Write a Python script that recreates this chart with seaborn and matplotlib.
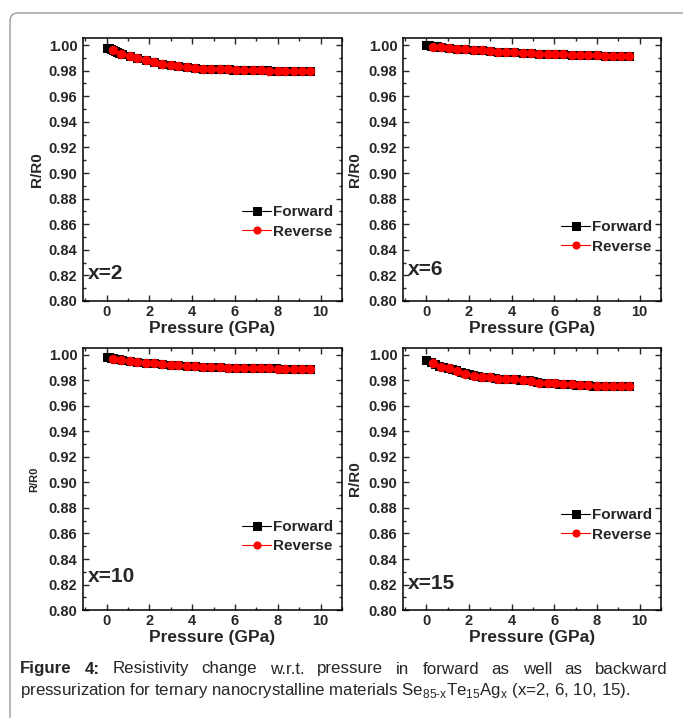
import pandas as pd
import matplotlib
matplotlib.use("Agg")
import matplotlib.pyplot as plt
import seaborn as sns
from matplotlib.patches import FancyBboxPatch
from matplotlib.ticker import MultipleLocator

# ---- data ----
# reverse sweep: same pressure points in every panel
p_rev = [0.30, 0.69, 1.08, 1.44, 1.83, 2.22, 2.61, 3.00, 3.36, 3.75, 4.13, 4.52, 4.90,
         5.30, 5.69, 6.03, 6.42, 6.82, 7.21, 7.60, 8.00, 8.36, 8.75, 9.15, 9.50]

rev_x2 = [0.9960, 0.9933, 0.9912, 0.9898, 0.9882, 0.9867, 0.9854, 0.9842, 0.9833, 0.9826,
          0.9820, 0.9816, 0.9813, 0.9811, 0.9809, 0.9807, 0.9805, 0.9803, 0.9802, 0.9800,
          0.9799, 0.9798, 0.9797, 0.9796, 0.9795]
rev_x6 = [0.9987, 0.9982, 0.9976, 0.9972, 0.9967, 0.9962, 0.9958, 0.9953, 0.9949, 0.9946,
          0.9942, 0.9939, 0.9936, 0.9933, 0.9931, 0.9929, 0.9927, 0.9925, 0.9923, 0.9921,
          0.9919, 0.9917, 0.9915, 0.9914, 0.9912]
rev_x10 = [0.9972, 0.9962, 0.9953, 0.9946, 0.9940, 0.9934, 0.9927, 0.9922, 0.9918, 0.9914,
           0.9911, 0.9908, 0.9905, 0.9903, 0.9900, 0.9898, 0.9897, 0.9896, 0.9895, 0.9894,
           0.9893, 0.9892, 0.9891, 0.9891, 0.9890]
rev_x15 = [0.9936, 0.9908, 0.9897, 0.9877, 0.9854, 0.9838, 0.9828, 0.9826, 0.9815, 0.9813,
           0.9810, 0.9805, 0.9797, 0.9782, 0.9780, 0.9777, 0.9772, 0.9772, 0.9764, 0.9764,
           0.9756, 0.9756, 0.9756, 0.9756, 0.9756]

# forward sweep
p_fwd_x2 = [0.0, 0.1, 0.2, 0.3, 0.4, 0.5, 0.6, 0.7,
            1.08, 1.44, 1.83, 2.22, 2.61, 3.00, 3.36, 3.75, 4.13, 4.52,
            4.9, 5.1, 5.3, 5.5, 5.7, 5.9, 6.1, 6.3, 6.5, 6.7, 6.9, 7.1, 7.3, 7.5,
            7.7, 7.9, 8.1, 8.3, 8.5, 8.7, 8.9, 9.1, 9.3, 9.5]
fwd_x2 = [0.9978, 0.9974, 0.9968, 0.9960, 0.9953, 0.9946, 0.9940, 0.9933,
          0.9912, 0.9898, 0.9882, 0.9867, 0.9854, 0.9842, 0.9833, 0.9826, 0.9820, 0.9816,
          0.9813, 0.9812, 0.9811, 0.9810, 0.9809, 0.9808, 0.9807, 0.9806, 0.9805, 0.9804,
          0.9803, 0.9802, 0.9802, 0.9801, 0.9800, 0.9799, 0.9799, 0.9798, 0.9797, 0.9797,
          0.9796, 0.9796, 0.9795, 0.9795]

p_fwd_x6 = [0.0, 0.1, 0.2, 0.3, 0.4, 0.5, 0.6, 0.7,
            1.08, 1.44, 1.83, 2.22, 2.61, 3.00, 3.36, 3.75, 4.13, 4.52, 4.90,
            5.30, 5.69, 6.03, 6.42, 6.82, 7.21, 7.60, 8.00, 8.36, 8.75, 9.15, 9.50]
fwd_x6 = [1.0000, 0.9998, 0.9996, 0.9993, 0.9991, 0.9989, 0.9987, 0.9985,
          0.9976, 0.9972, 0.9967, 0.9962, 0.9958, 0.9953, 0.9949, 0.9946, 0.9942, 0.9939,
          0.9936, 0.9933, 0.9931, 0.9929, 0.9927, 0.9925, 0.9923, 0.9921, 0.9919, 0.9917,
          0.9915, 0.9914, 0.9912]

p_fwd_x10 = [0.0, 0.1, 0.2, 0.3, 0.4, 0.5, 0.6, 0.7,
             1.08, 1.44, 1.83, 2.22, 2.61, 3.00, 3.36, 3.75, 4.13, 4.52, 4.90, 5.30,
             5.7, 5.9, 6.1, 6.3, 6.5, 6.7, 6.9, 7.1, 7.3, 7.5, 7.7, 7.9, 8.1, 8.3,
             8.5, 8.7, 8.9, 9.1, 9.3, 9.5]
fwd_x10 = [0.9985, 0.9982, 0.9978, 0.9974, 0.9971, 0.9968, 0.9965, 0.9962,
           0.9953, 0.9946, 0.9940, 0.9934, 0.9927, 0.9922, 0.9918, 0.9914, 0.9911, 0.9908,
           0.9905, 0.9903,
           0.9900, 0.9899, 0.9898, 0.9898, 0.9897, 0.9897, 0.9896, 0.9896, 0.9895, 0.9895,
           0.9894, 0.9894, 0.9893, 0.9893, 0.9892, 0.9892, 0.9891, 0.9891, 0.9890, 0.9890]

p_fwd_x15 = [0.0, 0.2, 0.4, 0.6, 0.8, 1.0, 1.2, 1.4, 1.6, 1.8, 2.0, 2.2, 2.4, 2.6, 2.8,
             3.0, 3.2, 3.4, 3.6, 3.8, 4.0, 4.2, 4.4, 4.6, 4.8, 5.0, 5.2, 5.4, 5.6, 5.8,
             6.0, 6.2, 6.4, 6.6, 6.8, 7.0, 7.2, 7.4, 7.6, 7.8, 8.0, 8.2, 8.4, 8.6, 8.8,
             9.0, 9.2, 9.4, 9.5]
fwd_x15 = [0.9962, 0.9945, 0.9930, 0.9915, 0.9905, 0.9898, 0.9890, 0.9879, 0.9868, 0.9856,
           0.9848, 0.9840, 0.9833, 0.9829, 0.9827, 0.9826, 0.9820, 0.9815, 0.9814, 0.9813,
           0.9811, 0.9809, 0.9806, 0.9804, 0.9800, 0.9794, 0.9785, 0.9782, 0.9781, 0.9779,
           0.9777, 0.9775, 0.9772, 0.9772, 0.9772, 0.9768, 0.9764, 0.9764, 0.9764, 0.9760,
           0.9756, 0.9756, 0.9756, 0.9756, 0.9756, 0.9756, 0.9756, 0.9756, 0.9756]

panels = [
    # label, forward p, forward R/R0, reverse R/R0, axes rect, legend y, label y, ylabel x, ylabel size
    ("x=2", p_fwd_x2, fwd_x2, rev_x2, [0.1215, 0.5808, 0.3792, 0.3663], 0.300, 0.106, -0.150, 11),
    ("x=6", p_fwd_x6, fwd_x6, rev_x6, [0.5900, 0.5808, 0.3777, 0.3663], 0.243, 0.118, -0.160, 11),
    ("x=10", p_fwd_x10, fwd_x10, rev_x10, [0.1215, 0.1504, 0.3792, 0.3650], 0.280, 0.126, -0.170, 8),
    ("x=15", p_fwd_x15, fwd_x15, rev_x15, [0.5900, 0.1504, 0.3777, 0.3650], 0.324, 0.103, -0.160, 11),
]

sns.set_style("ticks")
plt.rcParams['font.family'] = ['Liberation Sans', 'DejaVu Sans']
plt.rcParams['mathtext.fontset'] = 'custom'
plt.rcParams['mathtext.rm'] = 'Liberation Sans'

fig = plt.figure(figsize=(6.83, 7.18), dpi=100)

for name, pf, yf, yr, rect, leg_y, lab_y, ylab_x, ylab_size in panels:
    ax = fig.add_axes(rect)
    fwd = pd.DataFrame({'p': pf, 'r': yf})
    rev = pd.DataFrame({'p': p_rev, 'r': yr})
    sns.lineplot(data=fwd, x='p', y='r', ax=ax, color='black', marker='s', markersize=6,
                 markeredgecolor='black', linewidth=0.8, label='Forward', sort=False)
    sns.lineplot(data=rev, x='p', y='r', ax=ax, color='red', marker='o', markersize=6,
                 markeredgecolor='red', linewidth=0.8, label='Reverse', sort=False)

    ax.set_xlim(-1.1, 11.0)
    ax.set_ylim(0.80, 1.0055)
    ax.xaxis.set_major_locator(MultipleLocator(2))
    ax.xaxis.set_minor_locator(MultipleLocator(1))
    ax.yaxis.set_major_locator(MultipleLocator(0.02))
    ax.yaxis.set_minor_locator(MultipleLocator(0.01))
    ax.yaxis.set_major_formatter(matplotlib.ticker.FormatStrFormatter('%.2f'))
    ax.tick_params(which='both', direction='in', top=True, right=True, width=1,
                   labelsize=10.5)
    ax.tick_params(axis='x', pad=3)
    ax.tick_params(axis='y', pad=4)
    ax.tick_params(which='major', length=4.5)
    ax.tick_params(which='minor', length=2.5)
    for lab in ax.get_xticklabels() + ax.get_yticklabels():
        lab.set_fontweight('bold')
    for sp in ax.spines.values():
        sp.set_linewidth(1.1)
        sp.set_color('black')

    ax.set_xlabel('Pressure (GPa)', fontsize=12.5, fontweight='bold')
    ax.set_ylabel('R/R0', fontsize=ylab_size, fontweight='bold')
    ax.xaxis.set_label_coords(0.5, -0.076)
    ax.yaxis.set_label_coords(ylab_x, 0.5)

    ax.text(0.02, lab_y, name, transform=ax.transAxes, fontsize=15, fontweight='bold',
            ha='left', va='center')
    ax.legend(loc='center right', bbox_to_anchor=(1.0, leg_y), frameon=False,
              prop={'weight': 'bold', 'size': 11}, handlelength=1.9, handletextpad=0.1,
              labelspacing=0.35, borderaxespad=0.2, markerscale=0.85)

# frame around the figure block
frame = FancyBboxPatch((0.10, -0.5), 7.5, 7.55, boxstyle='round,pad=0,rounding_size=0.08',
                       transform=fig.dpi_scale_trans, facecolor='none',
                       edgecolor='#9a9a9a', linewidth=1.0)
fig.patches.append(frame)

# caption, first line justified
line1 = [("Figure", 'bold'), ("4:", 'bold'), ("Resistivity", 'normal'), ("change", 'normal'),
         ("w.r.t.", 'normal'), ("pressure", 'normal'), ("in", 'normal'), ("forward", 'normal'),
         ("as", 'normal'), ("well", 'normal'), ("as", 'normal'), ("backward", 'normal')]
line2 = (r"pressurization for ternary nanocrystalline materials "
         r"Se$_{\mathrm{85\text{-}x}}$Te$_{\mathrm{15}}$Ag$_{\mathrm{x}}$ (x=2, 6, 10, 15).")
cap_size = 12.2
fig.canvas.draw()
renderer = fig.canvas.get_renderer()
W = fig.bbox.width
x_left, x_right = 20 / 683, 668 / 683
y1, y2 = 1 - 669 / 718, 1 - 691 / 718
texts = []
total = 0
for w, wt in line1:
    t = fig.text(0, y1, w, fontsize=cap_size, fontweight=wt, ha='left', va='center')
    texts.append(t)
    total += t.get_window_extent(renderer).width / W
gap = (x_right - x_left - total) / (len(texts) - 1)
x = x_left
for t in texts:
    t.set_x(x)
    x += t.get_window_extent(renderer).width / W + gap
fig.text(x_left, y2, line2, fontsize=cap_size, ha='left', va='center')

fig.savefig('out.png', dpi=100)
